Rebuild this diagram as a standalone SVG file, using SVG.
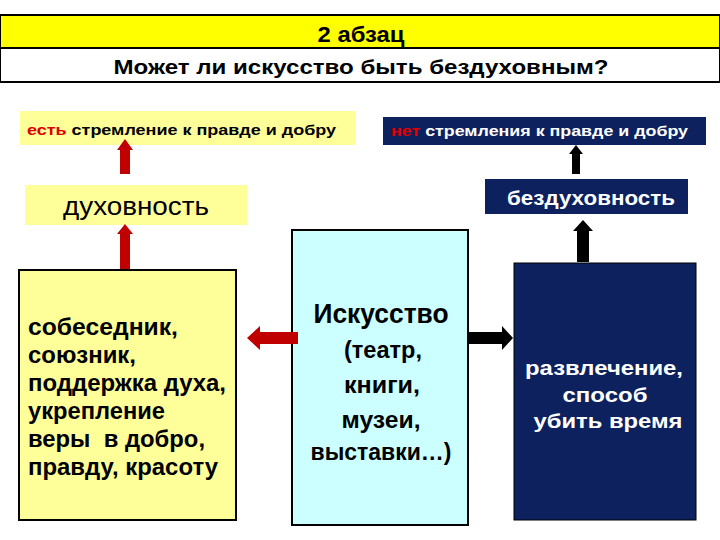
<svg xmlns="http://www.w3.org/2000/svg" width="720" height="540" viewBox="0 0 720 540">
<style>
.b{font-family:"Liberation Sans",Arial,sans-serif;font-weight:bold}
.n{font-family:"Liberation Sans",Arial,sans-serif}
.k{fill:#000}
.w{fill:#fff}
.navy{fill:#0C215E}
.pale{fill:#FFFF99}
</style>
<rect width="720" height="540" fill="#fff"/>
<g id="header">
<rect x="0" y="15" width="720" height="33" fill="#FFFF00" stroke="#000" stroke-width="2"/>
<rect x="0" y="48" width="720" height="34" fill="#fff" stroke="#000" stroke-width="2"/>
<text class="b k" x="361" y="42" font-size="22" text-anchor="middle" textLength="87" lengthAdjust="spacingAndGlyphs">2 абзац</text>
<text class="b k" x="361" y="74" font-size="21" text-anchor="middle" textLength="495" lengthAdjust="spacingAndGlyphs">Может ли искусство быть бездуховным?</text>
</g>
<g id="yes-label">
<rect class="pale" x="20" y="111" width="335" height="34"/>
<text class="b" x="27" y="135" font-size="15" textLength="309" lengthAdjust="spacingAndGlyphs"><tspan fill="#E00000">есть</tspan><tspan fill="#000"> стремление к правде и добру</tspan></text>
</g>
<g id="no-label">
<rect class="navy" x="383" y="117" width="323" height="28"/>
<text class="b" x="391" y="136" font-size="15" textLength="297" lengthAdjust="spacingAndGlyphs"><tspan fill="#E00000">нет</tspan><tspan fill="#fff"> стремления к правде и добру</tspan></text>
</g>
<g id="spirituality">
<rect class="pale" x="25" y="185" width="222" height="40"/>
<text class="n k" x="136" y="215" font-size="25" text-anchor="middle" textLength="146" lengthAdjust="spacingAndGlyphs">духовность</text>
</g>
<g id="lack-of-spirituality">
<rect class="navy" x="485" y="179" width="203" height="35"/>
<text class="b w" x="591" y="205" font-size="21" text-anchor="middle" textLength="168" lengthAdjust="spacingAndGlyphs">бездуховность</text>
</g>
<g id="left-box">
<rect class="pale" x="19" y="270" width="217" height="250" stroke="#000" stroke-width="2"/>
<g class="b k" font-size="24">
<text x="28" y="335" textLength="150" lengthAdjust="spacingAndGlyphs">собеседник,</text>
<text x="28" y="363" textLength="108" lengthAdjust="spacingAndGlyphs">союзник,</text>
<text x="28" y="391" textLength="198" lengthAdjust="spacingAndGlyphs">поддержка духа,</text>
<text x="28" y="419" textLength="137" lengthAdjust="spacingAndGlyphs">укрепление</text>
<text x="28" y="447" textLength="177" lengthAdjust="spacingAndGlyphs" style="white-space:pre">веры  в добро,</text>
<text x="28" y="475" textLength="190" lengthAdjust="spacingAndGlyphs">правду, красоту</text>
</g>
</g>
<g id="art">
<rect x="292" y="230" width="176" height="295" fill="#CCFFFF" stroke="#000" stroke-width="2"/>
<g class="b k" text-anchor="middle">
<text x="381" y="323" font-size="28" textLength="135" lengthAdjust="spacingAndGlyphs">Искусство</text>
<text x="383" y="358" font-size="24" textLength="78" lengthAdjust="spacingAndGlyphs">(театр,</text>
<text x="382" y="393" font-size="24" textLength="76" lengthAdjust="spacingAndGlyphs">книги,</text>
<text x="381" y="428" font-size="24" textLength="79" lengthAdjust="spacingAndGlyphs">музеи,</text>
<text x="381" y="460" font-size="24" textLength="141" lengthAdjust="spacingAndGlyphs">выставки…)</text>
</g>
</g>
<g id="right-box">
<rect class="navy" x="514" y="263" width="182" height="257" stroke="#000" stroke-width="1"/>
<g class="b w" font-size="20" text-anchor="middle">
<text x="604" y="375" textLength="158" lengthAdjust="spacingAndGlyphs">развлечение,</text>
<text x="605" y="402" textLength="85" lengthAdjust="spacingAndGlyphs">способ</text>
<text x="608" y="428" textLength="149" lengthAdjust="spacingAndGlyphs">убить время</text>
</g>
</g>
<g id="connectors">
<polygon fill="#C00000" points="125,139 133,150 130,150 130,174 120,174 120,150 117,150"/>
<polygon fill="#C00000" points="125,224 133,234 130,234 130,269 120,269 120,234 117,234"/>
<polygon fill="#C00000" points="247,338 260,326 260,332 298,332 298,344 260,344 260,350"/>
<polygon fill="#000" points="576,145 583,154 580,154 580,174 572,174 572,154 569,154"/>
<polygon fill="#000" points="583,220 593,231 589,231 589,262 577,262 577,231 573,231"/>
<polygon fill="#000" points="513,338 502,326 502,332 469,332 469,344 502,344 502,350"/>
</g>
</svg>
